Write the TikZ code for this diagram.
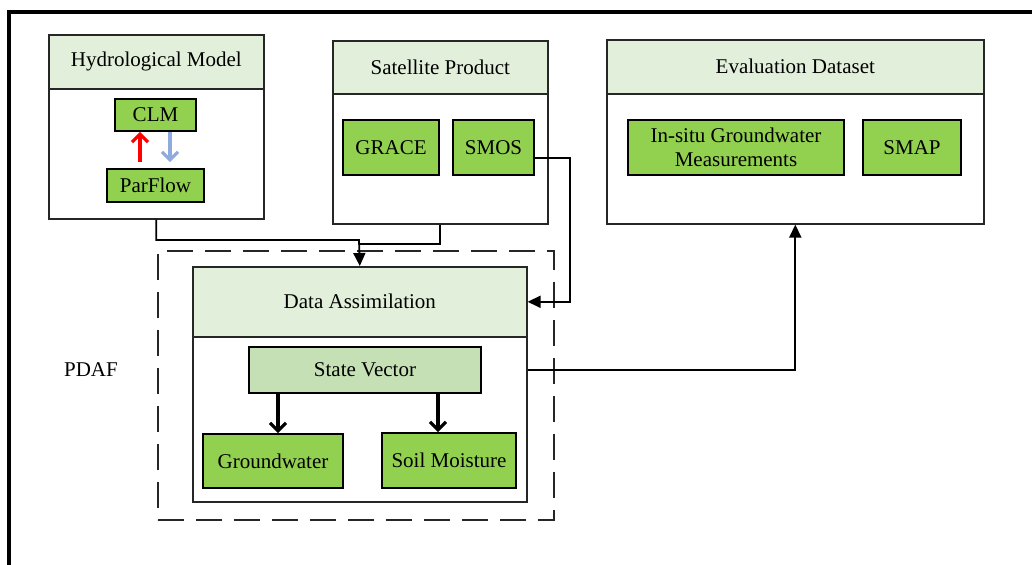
\documentclass[tikz,border=0pt]{standalone}
\usepackage{fontspec}
\setmainfont{Liberation Serif}
\usetikzlibrary{arrows.meta}

\definecolor{headgreen}{HTML}{E2EFDA}
\definecolor{itemgreen}{HTML}{92D050}
\definecolor{stategreen}{HTML}{C5E0B4}
\definecolor{flowblue}{HTML}{8FAADC}

\begin{document}
\begin{tikzpicture}[x=0.5pt,y=-0.5pt,
	every node/.style={font=\fontsize{10.5}{12}\selectfont},
	box/.style={draw=black!85, line width=0.8pt, inner sep=0pt, anchor=north west},
	head/.style={box, fill=headgreen},
	item/.style={draw=black, line width=0.9pt, fill=itemgreen, inner sep=0pt, align=center},
	conn/.style={line width=0.9pt, -{Triangle[length=6.5pt,width=6pt]}},
	thickarr/.style={line width=1.6pt, -{Straight Barb[length=4pt,width=8pt]}}]
	\useasboundingbox (0,0) rectangle (1032,565);
	%\draw[help lines] (0,0) grid[step=50] (1032,565);
	\draw[line width=2pt] (8.5,580) -- (8.5,12) -- (1045,12);

	% containers
	\node[box, minimum width=107.5pt, minimum height=92pt] (hydro) at (48,34) {};
	\node[head, minimum width=107.5pt, minimum height=27pt] (hydrohead) at (48,34) {Hydrological Model};
	\node[box, minimum width=107.5pt, minimum height=91.5pt] (sat) at (332,40) {};
	\node[head, minimum width=107.5pt, minimum height=26.5pt] (sathead) at (332,40) {Satellite Product};
	\node[box, minimum width=188.5pt, minimum height=92pt] (eval) at (606,39) {};
	\node[head, minimum width=188.5pt, minimum height=27pt] (evalhead) at (606,39) {Evaluation Dataset};
	\node[box, dash pattern=on 13pt off 6pt, minimum width=198pt, minimum height=134.5pt] (pdaf) at (157,250) {};
	\node[box, minimum width=167pt, minimum height=117.5pt] (da) at (192,266) {};
	\node[head, minimum width=167pt, minimum height=35pt] (dahead) at (192,266) {Data Assimilation};
	\node (pdaflabel) at (91,370) {PDAF};

	% items
	\node[item, minimum width=40.5pt, minimum height=16pt] (clm) at (155.5,115) {CLM};
	\node[item, minimum width=48.5pt, minimum height=16.5pt] (parflow) at (155.5,185.5) {ParFlow};
	\node[item, minimum width=48pt, minimum height=27.5pt] (grace) at (391,147.5) {GRACE};
	\node[item, minimum width=40.5pt, minimum height=27.5pt] (smos) at (493.5,147.5) {SMOS};
	\node[item, minimum width=108pt, minimum height=27.5pt] (insitu) at (736,147.5) {In-situ Groundwater\\Measurements};
	\node[item, minimum width=49pt, minimum height=27.5pt] (smap) at (912,147.5) {SMAP};
	\node[item, fill=stategreen, minimum width=116pt, minimum height=23pt] (sv) at (365,370) {State Vector};
	\node[item, minimum width=70pt, minimum height=27pt] (gw) at (273,461) {Groundwater};
	\node[item, minimum width=67pt, minimum height=27.5pt] (sm) at (449,460.5) {Soil Moisture};

	% arrows
	\draw[thickarr, red] ([yshift=3pt]parflow.north -| 140,0) -- (clm.south -| 140,0);
	\draw[thickarr, flowblue] (clm.south -| 170,0) -- ([yshift=3pt]parflow.north -| 170,0);
	\draw[thickarr] (sv.south -| 278,0) -- (gw.north -| 278,0);
	\draw[thickarr] (sv.south -| 438,0) -- (sm.north -| 438,0);

	\coordinate (hjoin) at (359,240);
	\coordinate (sjoin) at (359,244);
	\draw[conn] (hydro.south) |- (hjoin) -- (da.north);
	\draw[line width=0.9pt] (sat.south) |- (sjoin);
	\draw[conn] ([yshift=-5.25pt]smos.east) -| ([xshift=21pt]dahead.east) -- (dahead.east);
	\draw[conn] (da.east |- sv.east) -| (eval.south);
\end{tikzpicture}
\end{document}
